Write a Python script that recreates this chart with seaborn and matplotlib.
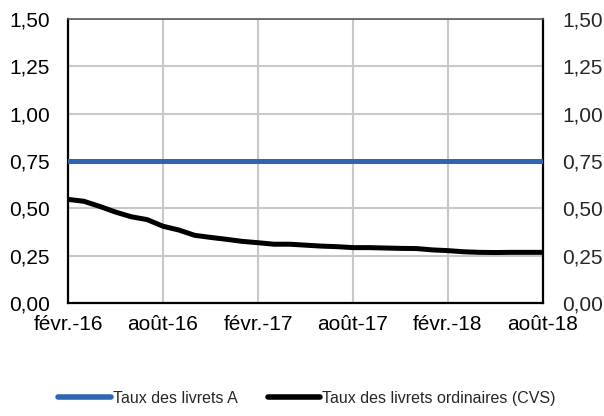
import numpy as np
import pandas as pd
import matplotlib
matplotlib.use("Agg")
import matplotlib.pyplot as plt
import seaborn as sns

# monthly, févr. 2016 -> août 2018
months = pd.date_range("2016-02-01", "2018-08-01", freq="MS")
livret_a = [0.75] * len(months)
livret_ord = [0.547, 0.537, 0.510, 0.480, 0.455, 0.440, 0.405, 0.385, 0.357, 0.346,
              0.336, 0.325, 0.318, 0.310, 0.310, 0.305, 0.300, 0.297, 0.292, 0.292,
              0.290, 0.288, 0.287, 0.280, 0.276, 0.270, 0.267, 0.266, 0.267, 0.267,
              0.267]
tick_labels = ["févr.-16", "août-16", "févr.-17", "août-17", "févr.-18", "août-18"]
y_ticks = [0.0, 0.25, 0.5, 0.75, 1.0, 1.25, 1.5]

BLUE = "#2E67B1"
GRID = "#C8C8C8"

sns.set_style("white")
plt.rcParams["font.family"] = ["Liberation Sans", "DejaVu Sans"]

df = pd.DataFrame({
    "m": np.arange(len(months)),
    "Taux des livrets A": livret_a,
    "Taux des livrets ordinaires (CVS)": livret_ord,
})
long = df.melt(id_vars="m", var_name="serie", value_name="taux")

fig = plt.figure(figsize=(6.04, 4.16), dpi=100)
ax = fig.add_axes([0.1126, 0.272, 0.7864, 0.682])

sns.lineplot(data=long, x="m", y="taux", hue="serie",
             palette={"Taux des livrets A": BLUE,
                      "Taux des livrets ordinaires (CVS)": "black"},
             lw=3.6, ax=ax, legend=False, zorder=3)

ax.set_xlim(0, len(months) - 1)
ax.set_ylim(0, 1.5)
ax.set_xticks(np.arange(0, len(months), 6))
ax.set_xticklabels(tick_labels)
ax.set_yticks(y_ticks)
fmt = lambda v: f"{v:.2f}".replace(".", ",")
ax.set_yticklabels([fmt(v) for v in y_ticks])
ax.grid(True, color=GRID, lw=1.5)
ax.set_xlabel("")
ax.set_ylabel("")
ax.tick_params(axis="y", length=0, labelsize=15, colors="black", pad=13)
ax.tick_params(axis="x", length=0, labelsize=15, colors="black", pad=9)

for side in ["left", "right", "bottom"]:
    ax.spines[side].set_color("black")
    ax.spines[side].set_linewidth(1.6)
ax.spines["top"].set_color("#5a5a5a")
ax.spines["top"].set_linewidth(1.2)

ax2 = ax.twinx()
ax2.set_ylim(0, 1.5)
ax2.set_yticks(y_ticks)
ax2.set_yticklabels([fmt(v) for v in y_ticks])
ax2.tick_params(axis="y", length=0, labelsize=15, pad=14)
for s in ax2.spines.values():
    s.set_visible(False)

handles = [plt.Line2D([0], [0], color=BLUE, lw=4),
           plt.Line2D([0], [0], color="black", lw=4)]
fig.legend(handles, ["Taux des livrets A", "Taux des livrets ordinaires (CVS)"],
           loc="center", bbox_to_anchor=(0.508, 0.043), ncol=2, frameon=False,
           fontsize=11.5, handlelength=3.3, handletextpad=0.1, columnspacing=1.9)

fig.savefig("out.png", dpi=100, facecolor="white")
